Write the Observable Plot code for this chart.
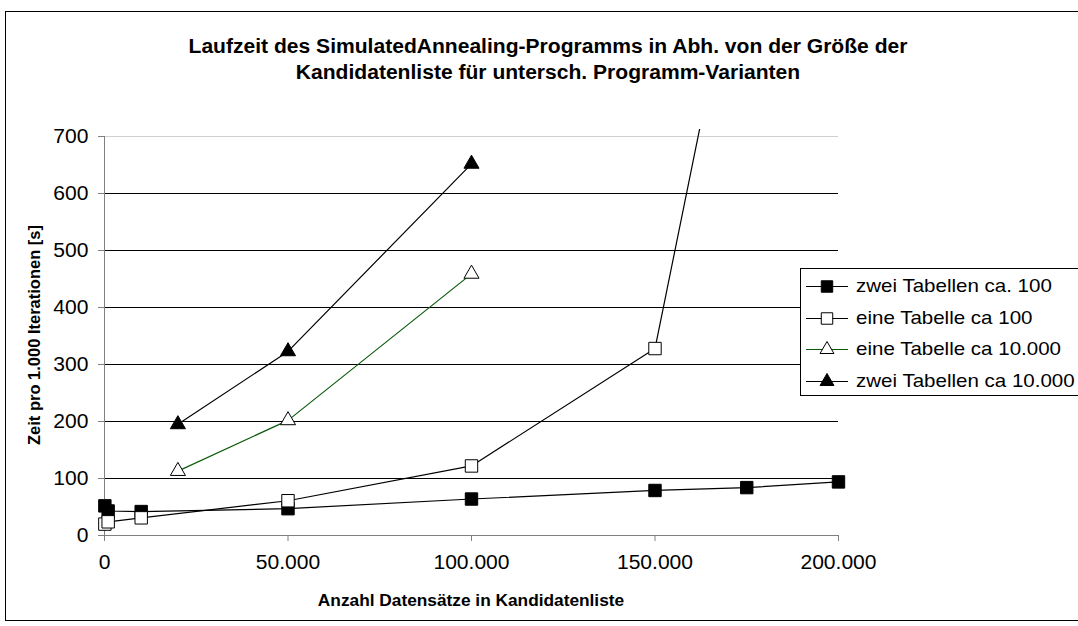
<!DOCTYPE html>
<html>
<head>
<meta charset="utf-8">
<script src="https://cdn.jsdelivr.net/npm/d3@7"></script>
<script src="https://cdn.jsdelivr.net/npm/@observablehq/plot@0.6"></script>
<style>
  body { margin: 0; background: #fff; font-family: "Liberation Sans", Arial, sans-serif; }
  #wrap { position: relative; width: 1078px; height: 626px; overflow: hidden; background: #fff; }
  #frame { position: absolute; left: 5px; top: 11px; width: 1200px; height: 610px; border: 1px solid #000; box-sizing: border-box; }
  #chart { position: absolute; left: 0; top: 0; }
  .title { position: absolute; left: 0; width: 1096px; text-align: center; font-weight: bold; font-size: 19.5px; color: #000; white-space: nowrap; transform: scaleX(1.08); transform-origin: 548px 0; }
  #ytitle { position: absolute; left: 34px; top: 335px; transform: translate(-50%, -50%) rotate(-90deg); font-weight: bold; font-size: 16.5px; white-space: nowrap; }
  #xtitle { position: absolute; left: 471px; top: 601px; transform: translate(-50%, -50%) scaleX(1.08); font-weight: bold; font-size: 16px; white-space: nowrap; }
  #legend { position: absolute; left: 800px; top: 268px; width: 320px; height: 128px; border: 1px solid #000; background: #fff; box-sizing: border-box; }
  .lg { position: absolute; left: 4px; height: 20px; display: flex; align-items: center; font-size: 19px; white-space: nowrap; }
  .lg svg { margin-right: 7px; }
  .lg span { display: inline-block; transform: scaleX(1.08); transform-origin: 0 50%; }
</style>
</head>
<body>
<div id="wrap">
  <div id="frame"></div>
  <div class="title" style="top:35px">Laufzeit des SimulatedAnnealing-Programms in Abh. von der Größe der</div>
  <div class="title" style="top:61px">Kandidatenliste für untersch. Programm-Varianten</div>
  <div id="chart"></div>
  <div id="ytitle">Zeit pro 1.000 Iterationen [s]</div>
  <div id="xtitle">Anzahl Datensätze in Kandidatenliste</div>
  <div id="legend"></div>
</div>
<script>
// ---- data ----
const seriesNames = ["zwei Tabellen ca. 100", "eine Tabelle ca 100", "eine Tabelle ca 10.000", "zwei Tabellen ca 10.000"];
const xZweiTab100 = [100, 1000, 10000, 50000, 100000, 150000, 175000, 200000];
const zweiTab100 = [52, 43, 42, 47, 64, 79, 84, 94];
const xEineTab100 = [100, 1000, 10000, 50000, 100000, 150000, 175000];
const eineTab100 = [20, 24, 31, 61, 122, 328, 1120];
const xTab10000 = [20000, 50000, 100000];
const eineTab10000 = [113, 202, 459];
const zweiTab10000 = [195, 323, 652];
const xTicks = [0, 50000, 100000, 150000, 200000];
const yTicks = [0, 100, 200, 300, 400, 500, 600, 700];

const styles = [
  {symbol: "square", fill: "#000", line: "#000", r: 7},
  {symbol: "square", fill: "#fff", line: "#000", r: 7},
  {symbol: "triangle", fill: "#fff", line: "#0b5a0b", r: 5.6},
  {symbol: "triangle", fill: "#000", line: "#000", r: 5.6}
];

const seriesData = [
  xZweiTab100.map((x, i) => ({x, y: zweiTab100[i], s: seriesNames[0]})),
  xEineTab100.map((x, i) => ({x, y: eineTab100[i], s: seriesNames[1]})),
  xTab10000.map((x, i) => ({x, y: eineTab10000[i], s: seriesNames[2]})),
  xTab10000.map((x, i) => ({x, y: zweiTab10000[i], s: seriesNames[3]}))
];

const de = d3.formatLocale({decimal: ",", thousands: ".", grouping: [3], currency: ["", " €"]});
const fmt = de.format(",d");

const marks = [
  Plot.ruleY(yTicks.filter(d => d > 0 && d < 700), {stroke: "#000", strokeWidth: 1}),
  Plot.ruleY([700], {stroke: "#d0d0d0", strokeWidth: 1}),
  Plot.ruleX([0], {y1: 0, y2: 700, stroke: "#808080"}),
  Plot.ruleY([0], {stroke: "#808080"}),
  Plot.axisY({ticks: yTicks, tickSize: 6, tickPadding: 10, tickFormat: d => d, stroke: "#808080", fill: "#000", label: null}),
  Plot.axisX({ticks: xTicks, tickSize: 6, tickPadding: 14, tickFormat: fmt, stroke: "#808080", fill: "#000", label: null})
];
seriesData.forEach((d, i) => {
  marks.push(Plot.line(d, {x: "x", y: "y", stroke: styles[i].line, strokeWidth: 1.2, clip: true}));
});
seriesData.forEach((d, i) => {
  marks.push(Plot.dot(d, {x: "x", y: "y", symbol: styles[i].symbol, fill: styles[i].fill, stroke: "#000", strokeWidth: 1, r: styles[i].r}));
});

const chart = Plot.plot({
  width: 1078,
  height: 626,
  marginLeft: 104,
  marginRight: 240,
  marginTop: 129,
  marginBottom: 91,
  x: {domain: [0, 200000]},
  y: {domain: [0, 712.3]},
  style: {fontFamily: "Liberation Sans, Arial, sans-serif", fontSize: "19.5px", background: "transparent", color: "#000", overflow: "visible"},
  marks
});
document.getElementById("chart").appendChild(chart);

// widen tick labels slightly, like the reference
const stretch = 1.08;
chart.querySelectorAll('g[aria-label="y-axis tick label"] text').forEach(t => {
  const b = t.getBBox();
  const ox = b.x + b.width;
  const tr = t.getAttribute("transform") || "";
  t.setAttribute("transform", `${tr} translate(${ox},0) scale(${stretch},1) translate(${-ox},0)`);
});
chart.querySelectorAll('g[aria-label="x-axis tick label"] text').forEach(t => {
  const b = t.getBBox();
  const ox = b.x + b.width / 2;
  const tr = t.getAttribute("transform") || "";
  t.setAttribute("transform", `${tr} translate(${ox},0) scale(${stretch},1) translate(${-ox},0)`);
});

// ---- legend ----
const legend = document.getElementById("legend");
const ns = "http://www.w3.org/2000/svg";
seriesNames.forEach((name, i) => {
  const row = document.createElement("div");
  row.className = "lg";
  row.style.top = (7 + i * 31.7) + "px";
  const svg = document.createElementNS(ns, "svg");
  svg.setAttribute("width", 44); svg.setAttribute("height", 20);
  const ln = document.createElementNS(ns, "line");
  ln.setAttribute("x1", 1); ln.setAttribute("x2", 43); ln.setAttribute("y1", 10.5); ln.setAttribute("y2", 10.5);
  ln.setAttribute("stroke", styles[i].line); ln.setAttribute("stroke-width", 1.2);
  svg.appendChild(ln);
  const mk = document.createElementNS(ns, "path");
  const size = Math.PI * styles[i].r * styles[i].r * 0.85;
  const sym = styles[i].symbol === "square" ? d3.symbolSquare : d3.symbolTriangle;
  mk.setAttribute("d", d3.symbol(sym, size)());
  mk.setAttribute("transform", "translate(22,10.5)");
  mk.setAttribute("fill", styles[i].fill); mk.setAttribute("stroke", "#000");
  svg.appendChild(mk);
  row.appendChild(svg);
  const t = document.createElement("span");
  t.textContent = name;
  row.appendChild(t);
  legend.appendChild(row);
});
</script>
</body>
</html>
